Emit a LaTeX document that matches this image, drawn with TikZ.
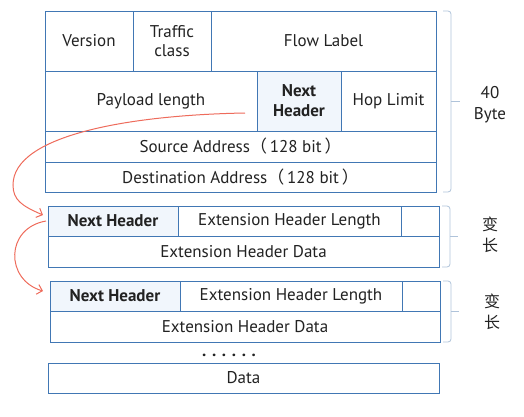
\documentclass[tikz,border=0pt]{standalone}
\usepackage{fontspec}
\setmainfont{PT Sans}
\newfontfamily\cjk{Noto Sans CJK SC}
\usetikzlibrary{arrows.meta,positioning}
\definecolor{frame}{HTML}{4177B4}
\definecolor{hfill}{HTML}{F1F6FC}
\definecolor{ink}{HTML}{222222}
\definecolor{flow}{HTML}{EE6B5B}
\definecolor{brace}{HTML}{AFC3DA}
\tikzset{
  cell/.style={draw=frame,line width=0.9pt,fill=white,anchor=north west,inner sep=0pt,outer sep=0pt,align=center,text=ink,font=\fontsize{17}{19}\selectfont},
  nhcell/.style={cell,fill=hfill,font=\fontsize{17}{20}\selectfont\bfseries},
  arrow/.style={-{Straight Barb[length=5pt,width=10pt]},line width=1pt,color=flow},
  brc/.style={draw=brace,line width=0.8pt,rounded corners=3pt},
  side/.style={font=\fontsize{17}{21}\selectfont,text=ink,align=center},
}

\begin{document}
\begin{tikzpicture}[x=1pt,y=-1pt]
    \useasboundingbox (0,0) rectangle (524,416);
    % fixed header, 40 byte
    \node[cell,minimum width=88,minimum height=60] (ver) at (45,11) {Version};
    \node[cell,minimum width=78,minimum height=60,right=0pt of ver] (tc) {Traffic\\class};
    \node[cell,minimum width=225,minimum height=60,right=0pt of tc] (fl) {Flow Label};
    \node[cell,minimum width=212,minimum height=60] (pay) at (ver.south west) {Payload length};
    \node[nhcell,minimum width=84,minimum height=60,right=0pt of pay] (nh) {Next\\Header};
    \node[cell,minimum width=95,minimum height=60,right=0pt of nh] (hop) {Hop Limit};
    \node[cell,minimum width=391,minimum height=31] (src) at (pay.south west) {Source Address{\cjk（}\,128 bit\,{\cjk）}};
    \node[cell,minimum width=391,minimum height=30] (dst) at (src.south west) {Destination Address{\cjk（}\,128 bit\,{\cjk）}};
    % first extension header
    \node[nhcell,minimum width=130,minimum height=30] (nhA) at (48,206) {Next Header};
    \node[cell,minimum width=223,minimum height=30,right=0pt of nhA] (lenA) {Extension Header Length};
    \node[cell,minimum width=38,minimum height=30,right=0pt of lenA] (padA) {};
    \node[cell,minimum width=391,minimum height=31] (datA) at (nhA.south west) {Extension Header Data};
    % second extension header
    \node[nhcell,minimum width=130,minimum height=30] (nhB) at (50,281) {Next Header};
    \node[cell,minimum width=222,minimum height=30,right=0pt of nhB] (lenB) {Extension Header Length};
    \node[cell,minimum width=38,minimum height=30,right=0pt of lenB] (padB) {};
    \node[cell,minimum width=390,minimum height=31] (datB) at (nhB.south west) {Extension Header Data};
    \node[text=ink,font=\fontsize{17}{19}\selectfont\bfseries,anchor=base] (dots) at (229,356) {. . . . . .};
    \node[cell,minimum width=391,minimum height=30] (data) at (48,363) {Data};
    % brackets on the right
    \draw[brc] ([xshift=7]fl.north east) -- ++(8,0) -- ([xshift=15]dst.south east) -- ([xshift=7]dst.south east);
    \draw[brc] ([xshift=15]hop.east) -- ++(9,0);
    \draw[brc] ([xshift=3]padA.north east) -- ++(8,0) -- ([xshift=11]datA.south east) -- ([xshift=3]datA.south east);
    \draw[brc] ([xshift=11]padA.south east) -- ++(8,0);
    \draw[brc] ([xshift=3]padB.north east) -- ++(8,0) -- ([xshift=11]datB.south east) -- ([xshift=3]datB.south east);
    \draw[brc] ([xshift=11]padB.south east) -- ++(8,0);
    \node[side] (len40) at (490,105) {40\\Byte};
    \node[side,font=\cjk\fontsize{16}{21}\selectfont] (varA) at (490,235) {变\\长};
    \node[side,font=\cjk\fontsize{16}{21}\selectfont] (varB) at (492,312) {变\\长};
    % next header chain
    \coordinate (s1) at ([shift={(-12,12)}]pay.east);
    \coordinate (e1) at ([shift={(-5,9)}]nhA.north west);
    \coordinate (e2) at ([shift={(-7,10)}]nhB.north west);
    \draw[arrow] (s1) .. controls (130,115) and (13,135) .. (13,185) .. controls (13,200) and (22,206) .. (e1);
    \draw[arrow] ([xshift=-2]nhA.west) .. controls (5,228) and (5,280) .. (e2);
\end{tikzpicture}
\end{document}
